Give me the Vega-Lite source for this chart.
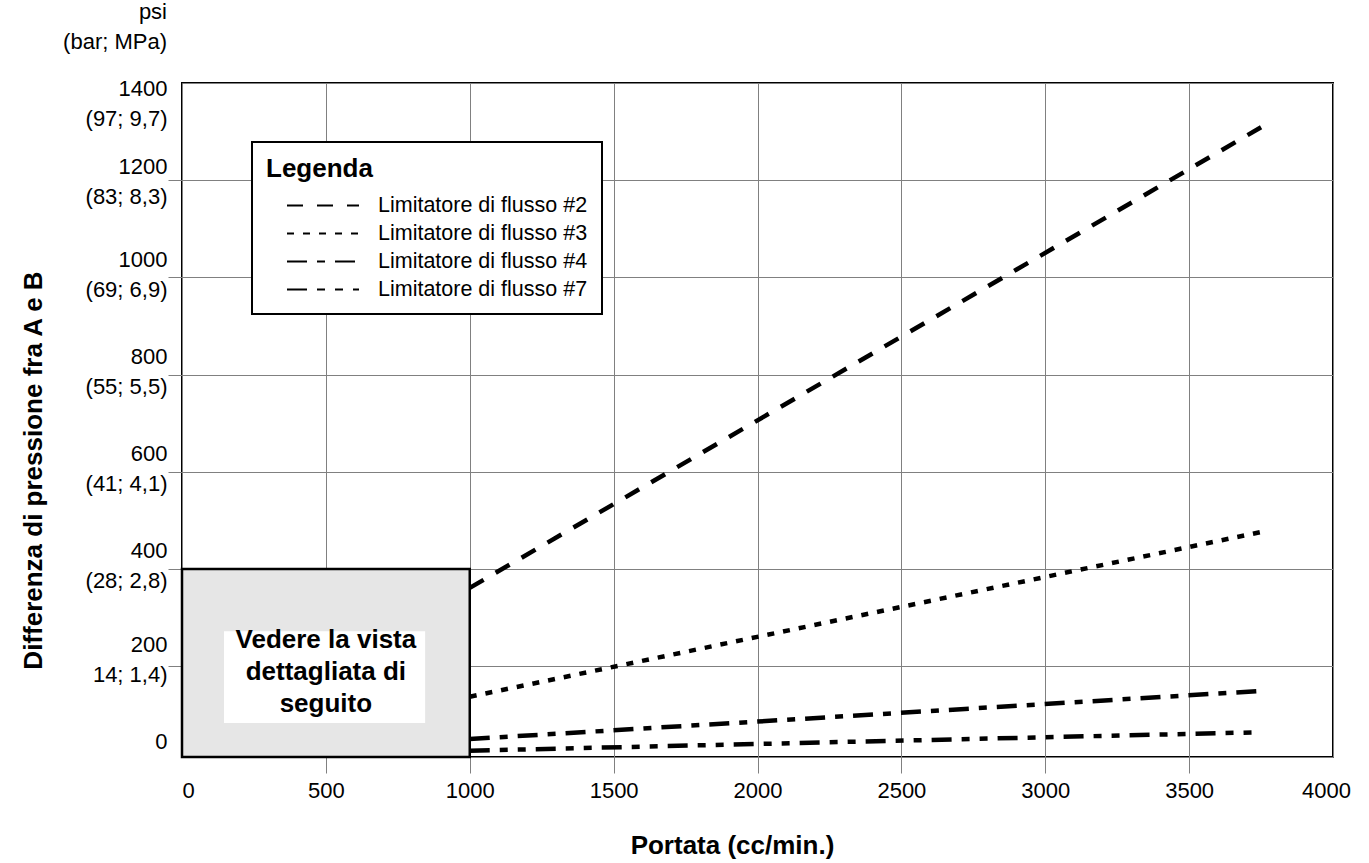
{
  "$schema": "https://vega.github.io/schema/vega-lite/v6.json",
  "width": 1151,
  "height": 674,
  "autosize": {"type": "none"},
  "padding": {"left": 182, "top": 83, "right": 36, "bottom": 106},
  "background": "white",
  "title": {
    "text": ["psi\u2002\u2002", "(bar; MPa)"],
    "anchor": "start",
    "frame": "group",
    "align": "right",
    "dx": -15,
    "offset": 23,
    "fontSize": 22,
    "fontWeight": "normal",
    "font": "Liberation Sans",
    "lineHeight": 30,
    "color": "black"
  },
  "config": {
    "font": "Liberation Sans",
    "view": {"stroke": "black", "strokeWidth": 2},
    "axis": {
      "domain": false,
      "grid": true,
      "gridColor": "#808080",
      "gridWidth": 1,
      "gridOpacity": 1,
      "tickColor": "#808080",
      "tickWidth": 1,
      "labelColor": "black",
      "titleColor": "black",
      "labelFont": "Liberation Sans",
      "titleFont": "Liberation Sans",
      "labelFontSize": 22,
      "titleFontSize": 26,
      "titleFontWeight": "bold",
      "labelOverlap": false,
      "labelFlush": false
    },
    "legend": {"strokeWidth": 2}
  },
  "datasets": {
    "lines": [
      {"series": "Limitatore di flusso #2", "flow": 1000, "dp": 361},
      {"series": "Limitatore di flusso #2", "flow": 3750, "dp": 1309},
      {"series": "Limitatore di flusso #3", "flow": 1000, "dp": 137},
      {"series": "Limitatore di flusso #3", "flow": 3750, "dp": 476},
      {"series": "Limitatore di flusso #4", "flow": 1000, "dp": 50},
      {"series": "Limitatore di flusso #4", "flow": 3750, "dp": 149},
      {"series": "Limitatore di flusso #7", "flow": 1000, "dp": 26},
      {"series": "Limitatore di flusso #7", "flow": 3750, "dp": 64}
    ],
    "box": [{"flow": 0, "flow_end": 1000, "dp": 400, "dp_end": 0}],
    "note": [{"flow": 146, "flow_end": 845, "dp": 272, "dp_end": 83}],
    "noteText": [{"flow": 500, "dp": 254, "label": "Vedere la vista\ndettagliata di\nseguito"}]
  },
  "layer": [
    {
      "data": {"name": "lines"},
      "mark": {"type": "line", "stroke": "black", "strokeWidth": 4.5, "clip": true},
      "encoding": {
        "x": {
          "field": "flow",
          "type": "quantitative",
          "scale": {"domain": [0, 4000], "nice": false, "zero": false},
          "axis": {
            "title": "Portata (cc/min.)",
            "values": [0, 500, 1000, 1500, 2000, 2500, 3000, 3500, 4000],
            "format": "d",
            "tickSize": 16,
            "labelPadding": 7,
            "labelAlign": {"condition": {"test": "datum.value == 0", "value": "left"}, "value": "center"},
            "labelOffset": {"condition": {"test": "datum.value == 4000", "value": -7}, "value": 0},
            "tickOpacity": {"condition": {"test": "datum.value == 0 || datum.value == 4000", "value": 0}, "value": 1},
            "titleX": 550,
            "titleY": 88,
            "titleAlign": "center",
            "titleBaseline": "middle"
          }
        },
        "y": {
          "field": "dp",
          "type": "quantitative",
          "scale": {"domain": [13, 1400], "nice": false, "zero": false, "clamp": true},
          "axis": {
            "title": "Differenza di pressione fra A e B",
            "values": [13, 200, 400, 600, 800, 1000, 1200, 1400],
            "labelExpr": "datum.value < 100 ? '0' : datum.value == 1400 ? ['1400', '(97; 9,7)'] : datum.value == 1200 ? ['1200', '(83; 8,3)'] : datum.value == 1000 ? ['1000', '(69; 6,9)'] : datum.value == 800 ? ['800', '(55; 5,5)'] : datum.value == 600 ? ['600', '(41; 4,1)'] : datum.value == 400 ? ['400', '(28; 2,8)'] : ['200', '14; 1,4)']",
            "labelBaseline": "middle",
            "labelLineHeight": 30,
            "labelOffset": {"condition": [{"test": "datum.value == 1400", "value": 5}, {"test": "datum.value == 1200", "value": -14}, {"test": "datum.value == 200", "value": -22}, {"test": "datum.value < 100", "value": -16}], "value": -18},
            "tickOpacity": {"condition": {"test": "datum.value < 100 || datum.value == 1400", "value": 0}, "value": 1},
            "tickSize": 14,
            "labelPadding": 1,
            "titleX": -149,
            "titleY": 387,
            "titleAngle": -90,
            "titleAlign": "center",
            "titleBaseline": "middle"
          }
        },
        "strokeDash": {
          "field": "series",
          "type": "nominal",
          "scale": {
            "domain": ["Limitatore di flusso #2", "Limitatore di flusso #3", "Limitatore di flusso #4", "Limitatore di flusso #7"],
            "range": [[16, 14], [7, 9], [20, 10, 8, 10], [20, 10, 8, 10, 8, 10]]
          },
          "legend": {
            "title": "Legenda",
            "orient": "none",
            "legendX": 70,
            "legendY": 59,
            "symbolType": "stroke",
            "symbolSize": 5184,
            "symbolStrokeWidth": 2,
            "symbolStrokeColor": "black",
            "symbolOffset": 20,
            "labelOffset": 18,
            "labelFontSize": 21.5,
            "labelLimit": 400,
            "labelColor": "black",
            "labelFont": "Liberation Sans",
            "titleFont": "Liberation Sans",
            "titleFontSize": 26,
            "titleFontWeight": "bold",
            "titleColor": "black",
            "titlePadding": 13,
            "padding": 14,
            "rowPadding": 6,
            "clipHeight": 21,
            "fillColor": "white",
            "strokeColor": "black"
          }
        }
      }
    },
    {
      "data": {"name": "box"},
      "mark": {"type": "rect", "fill": "#e6e6e6", "stroke": "black", "strokeWidth": 2.5},
      "encoding": {
        "x": {"field": "flow", "type": "quantitative"},
        "x2": {"field": "flow_end"},
        "y": {"field": "dp", "type": "quantitative"},
        "y2": {"field": "dp_end"}
      }
    },
    {
      "data": {"name": "note"},
      "mark": {"type": "rect", "fill": "white", "strokeWidth": 0},
      "encoding": {
        "x": {"field": "flow", "type": "quantitative"},
        "x2": {"field": "flow_end"},
        "y": {"field": "dp", "type": "quantitative"},
        "y2": {"field": "dp_end"}
      }
    },
    {
      "data": {"name": "noteText"},
      "mark": {"type": "text", "fontSize": 26, "fontWeight": "bold", "font": "Liberation Sans", "lineBreak": "\n", "lineHeight": 32, "align": "center", "baseline": "middle", "color": "black"},
      "encoding": {
        "x": {"field": "flow", "type": "quantitative"},
        "y": {"field": "dp", "type": "quantitative"},
        "text": {"field": "label"}
      }
    }
  ]
}
